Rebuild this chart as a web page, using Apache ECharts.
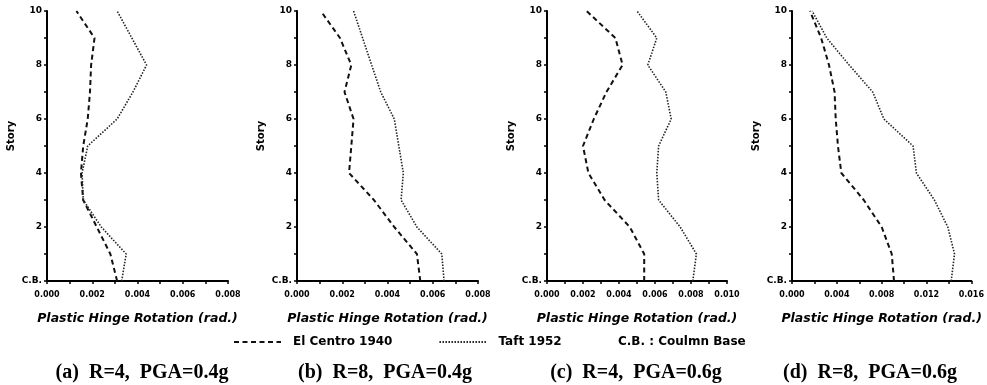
<!DOCTYPE html>
<html>
<head>
<meta charset="utf-8">
<script src="https://cdn.jsdelivr.net/npm/echarts@6/dist/echarts.min.js"></script>
<style>
html,body{margin:0;padding:0;background:#fff;}
#chart{width:987px;height:385px;}
</style>
</head>
<body>
<div id="chart"></div>
<script>
// Story levels: 0 = C.B. (column base), 1..10
const stories = [0,1,2,3,4,5,6,7,8,9,10];
const yTickValues = [0,2,4,6,8,10];
const yTickText = ['C.B.','2','4','6','8','10'];

const seriesNames = ['El Centro 1940','Taft 1952'];

// (a) R=4, PGA=0.4g
const elCentroA = [0.0031,0.0028,0.0022,0.0016,0.0015,0.0016,0.0018,0.0019,0.00195,0.0021,0.0013];
const taftA     = [0.0033,0.0035,0.0024,0.0016,0.00155,0.0018,0.0031,0.0038,0.0044,0.00375,0.0031];
// (b) R=8, PGA=0.4g
const elCentroB = [0.00545,0.0053,0.0043,0.0034,0.0023,0.0024,0.0025,0.0021,0.0024,0.0019,0.00105];
const taftB     = [0.0065,0.0064,0.0053,0.0046,0.0047,0.0045,0.0043,0.0037,0.0033,0.0029,0.0025];
// (c) R=4, PGA=0.6g
const elCentroC = [0.0054,0.0054,0.0046,0.0032,0.0023,0.0020,0.0026,0.0033,0.0042,0.0038,0.0022];
const taftC     = [0.0081,0.0083,0.0074,0.0062,0.0061,0.0062,0.0069,0.0066,0.0056,0.0061,0.0050];
// (d) R=8, PGA=0.6g
const elCentroD = [0.0091,0.0089,0.0080,0.0064,0.0044,0.0041,0.0039,0.0038,0.0033,0.0026,0.0016];
const taftD     = [0.0142,0.0145,0.0139,0.0127,0.0111,0.0108,0.0082,0.0072,0.0051,0.0031,0.0018];

const xTicksA = ['0.000','0.002','0.004','0.006','0.008'];
const xTicksB = ['0.000','0.002','0.004','0.006','0.008'];
const xTicksC = ['0.000','0.002','0.004','0.006','0.008','0.010'];
const xTicksD = ['0.000','0.004','0.008','0.012','0.016'];

const captions = ['(a)  R=4,  PGA=0.4g','(b)  R=8,  PGA=0.4g','(c)  R=4,  PGA=0.6g','(d)  R=8,  PGA=0.6g'];
const xAxisTitle = 'Plastic Hinge Rotation (rad.)';
const yAxisTitle = 'Story';
const noteText = 'C.B. : Coulmn Base';

const panels = [
  {ec: elCentroA, tf: taftA, ticks: xTicksA, minor: 0.001, left: 47,  width: 181, cap: 142},
  {ec: elCentroB, tf: taftB, ticks: xTicksB, minor: 0.001, left: 297, width: 181, cap: 385},
  {ec: elCentroC, tf: taftC, ticks: xTicksC, minor: 0.001, left: 547, width: 180, cap: 636},
  {ec: elCentroD, tf: taftD, ticks: xTicksD, minor: 0.002, left: 792, width: 181, cap: 870}
];

const tickFont = {color:'#000', fontFamily:'DejaVu Sans', fontWeight:'bold', fontSize:8};
const axisLine = {show:true, lineStyle:{color:'#000', width:2}};
const ecStyle = {color:'#111', width:2, type:[5,3.5]};
const tfStyle = {color:'#222', width:1.6, type:[1.5,1.5]};

const grids = [], xAxes = [], yAxes = [], series = [], graphics = [];
panels.forEach((p, i) => {
  grids.push({left: p.left, top: 11, width: p.width, height: 270, containLabel:false});
  const tickVals = p.ticks.map(parseFloat);
  xAxes.push({
    type:'value', gridIndex:i, min:0, max: tickVals[tickVals.length-1], interval: p.minor,
    axisLine: axisLine,
    axisTick:{show:true, length:3, lineStyle:{color:'#000', width:1.5}},
    splitLine:{show:false},
    axisLabel:Object.assign({margin:10, showMinLabel:true, showMaxLabel:true, formatter: v => {
      for (let k=0;k<tickVals.length;k++){ if (Math.abs(v - tickVals[k]) < 1e-9) return p.ticks[k]; }
      return '';
    }}, tickFont),
    name: xAxisTitle, nameLocation:'middle', nameGap: 31,
    nameTextStyle:{color:'#000', fontFamily:'DejaVu Sans', fontWeight:'bold', fontStyle:'italic', fontSize:12.5}
  });
  yAxes.push({
    type:'value', gridIndex:i, min:0, max:10, interval:1,
    axisLine: axisLine,
    axisTick:{show:true, length:3, lineStyle:{color:'#000', width:1.5}},
    splitLine:{show:false},
    axisLabel:Object.assign({margin:5, formatter: v => {
      const k = yTickValues.indexOf(Math.round(v));
      return (k >= 0 && Math.abs(v - Math.round(v)) < 1e-9) ? yTickText[k] : '';
    }}, tickFont, {fontSize:9}),
    name: yAxisTitle, nameLocation:'middle', nameGap: 31, nameRotate: 90,
    nameTextStyle:{color:'#000', fontFamily:'DejaVu Sans', fontWeight:'bold', fontSize:10, padding:[0,0,0,20]}
  });
  series.push({
    name: seriesNames[0], type:'line', xAxisIndex:i, yAxisIndex:i, symbol:'none',
    data: stories.map((s, k) => [p.ec[k], s]),
    lineStyle: ecStyle, itemStyle:{color:'#111'}
  });
  series.push({
    name: seriesNames[1], type:'line', xAxisIndex:i, yAxisIndex:i, symbol:'none',
    data: stories.map((s, k) => [p.tf[k], s]),
    lineStyle: tfStyle, itemStyle:{color:'#222'}
  });
  graphics.push({
    type:'text', x: p.cap, y: 373,
    style:{text: captions[i], fill:'#000', font:'bold 20px "Liberation Serif"', textAlign:'center', textVerticalAlign:'middle'}
  });
});

graphics.push({
  type:'text', x: 618, y: 342,
  style:{text: noteText, fill:'#000', font:'bold 12px "DejaVu Sans"', textVerticalAlign:'middle'}
});

const chart = echarts.init(document.getElementById('chart'), null, {renderer:'canvas'});
chart.setOption({
  animation:false,
  backgroundColor:'#fff',
  grid: grids,
  xAxis: xAxes,
  yAxis: yAxes,
  series: series,
  legend:{
    show:true, orient:'horizontal', padding:0,
    data: seriesNames, left: 233, top: 336, itemWidth: 47, itemHeight: 12, itemGap: 46,
    itemStyle:{color:'transparent', borderWidth:0, opacity:0},
    textStyle:{color:'#000', fontFamily:'DejaVu Sans', fontWeight:'bold', fontSize:12, padding:[0,0,0,7]}
  },
  graphic: graphics
});
</script>
</body>
</html>
